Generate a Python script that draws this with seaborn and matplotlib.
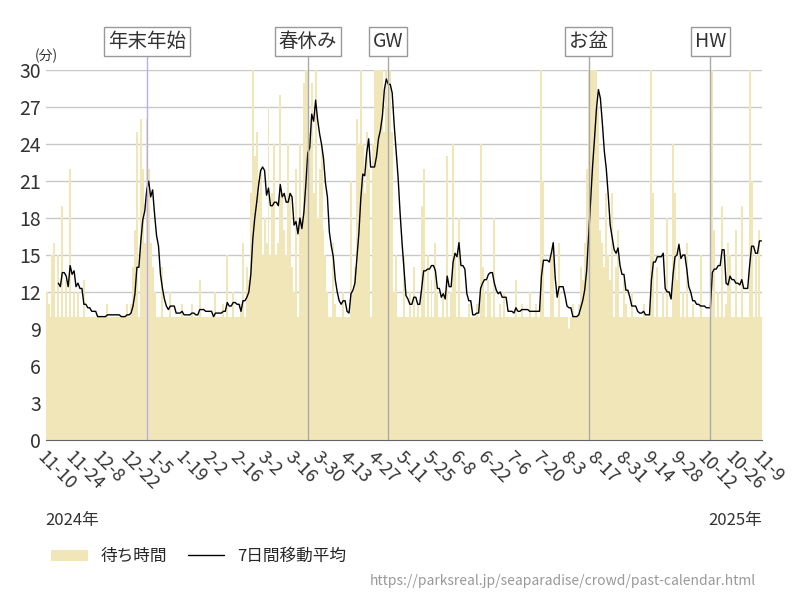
import numpy as np
import pandas as pd
import matplotlib
matplotlib.use("Agg")
import matplotlib.pyplot as plt
import seaborn as sns

# ---------------------------------------------------------------------------
# Data: daily waiting time (minutes), 2024-11-10 .. 2025-11-09, one row per week
# ---------------------------------------------------------------------------
weeks = [
    [12, 11, 10, 15, 16, 10, 15], [10, 19, 10, 13, 10, 22, 10], [12, 10, 12, 10, 10, 13, 10],
    [10, 10, 10, 10, 10, 10, 10], [10, 10, 10, 11, 10, 10, 10], [10, 10, 10, 10, 10, 10, 11],
    [10, 11, 14, 17, 25, 10, 26], [22, 16, 26, 22, 16, 14, 12], [10, 10, 10, 14, 10, 10, 10],
    [12, 10, 10, 10, 10, 10, 11], [10, 10, 10, 10, 11, 10, 10], [10, 13, 10, 10, 10, 10, 10],
    [10, 10, 12, 10, 10, 10, 11], [10, 15, 10, 10, 12, 10, 10], [10, 11, 16, 10, 14, 13, 20],
    [30, 23, 25, 20, 22, 15, 18], [16, 27, 15, 20, 24, 15, 16], [28, 20, 17, 15, 24, 20, 14],
    [12, 22, 10, 24, 18, 29, 30], [30, 25, 29, 20, 30, 18, 22], [24, 17, 15, 12, 10, 10, 16],
    [11, 10, 10, 10, 12, 10, 10], [10, 21, 12, 14, 26, 24, 30], [24, 20, 25, 22, 10, 24, 30],
    [30, 30, 30, 30, 25, 30, 27], [30, 25, 12, 15, 10, 10, 10], [15, 10, 10, 12, 10, 14, 10],
    [11, 10, 19, 22, 10, 15, 10], [13, 10, 16, 12, 10, 10, 12], [10, 23, 10, 12, 24, 15, 10],
    [18, 10, 10, 10, 10, 11, 10], [10, 10, 11, 10, 24, 14, 12], [10, 13, 12, 10, 18, 10, 10],
    [11, 10, 12, 10, 10, 10, 10], [10, 13, 10, 10, 11, 10, 10], [10, 12, 10, 10, 11, 10, 10],
    [30, 21, 10, 10, 10, 15, 16], [10, 10, 16, 10, 10, 10, 10], [9, 10, 11, 10, 10, 11, 14],
    [13, 16, 22, 30, 30, 30, 30], [30, 27, 17, 16, 14, 20, 15], [13, 20, 10, 14, 17, 10, 10],
    [13, 11, 10, 10, 12, 10, 10], [10, 10, 10, 11, 10, 10, 10], [30, 20, 10, 14, 10, 10, 12],
    [10, 18, 10, 10, 24, 20, 13], [16, 10, 12, 10, 16, 10, 10], [11, 10, 10, 10, 15, 10, 10],
    [10, 10, 10, 30, 17, 10, 12], [10, 19, 10, 11, 16, 15, 10], [10, 17, 10, 10, 19, 10, 10],
    [10, 30, 21, 10, 15, 10, 17], [10],
]
waits = [v for w in weeks for v in w]
dates = pd.date_range("2024-11-10", periods=len(waits), freq="D")

tick_labels = ["11-10", "11-24", "12-8", "12-22", "1-5", "1-19", "2-2", "2-16", "3-2",
               "3-16", "3-30", "4-13", "4-27", "5-11", "5-25", "6-8", "6-22", "7-6",
               "7-20", "8-3", "8-17", "8-31", "9-14", "9-28", "10-12", "10-26", "11-9"]
events = ["年末年始", "春休み", "GW", "お盆", "HW"]
event_dates = ["2024-12-31", "2025-03-23", "2025-05-03", "2025-08-13", "2025-10-14"]

df = pd.DataFrame({"day": np.arange(len(waits)), "wait": waits})
df["ma"] = df["wait"].rolling(7).mean()

# ---------------------------------------------------------------------------
# Plot
# ---------------------------------------------------------------------------
sns.set_style("white")
plt.rcParams["font.family"] = ["Noto Sans CJK JP", "DejaVu Sans"]

fig = plt.figure(figsize=(8, 6), dpi=100)
ax = fig.add_axes([0.057, 0.267, 0.896, 0.616])

sns.barplot(data=df, x="day", y="wait", native_scale=True, width=1,
            color="#f1e6b8", saturation=1, linewidth=0, ax=ax, label="待ち時間")
sns.lineplot(data=df, x="day", y="ma", color="black", lw=1, ax=ax, label="7日間移動平均")

ax.set_xlim(-0.5, len(waits) - 0.5)
ax.set_ylim(0, 30)
ax.set_yticks(range(0, 31, 3))
ax.yaxis.grid(True, color="#c8c8c8", lw=1)
ax.set_axisbelow(True)
for s in ["top", "right", "left"]:
    ax.spines[s].set_visible(False)
ax.spines["bottom"].set_color("#666666")
ax.tick_params(axis="y", labelsize=14, colors="#333333", length=0)

tick_pos = [(pd.Timestamp(f"{2024 if i < 4 else 2025}-{t}") - dates[0]).days
            for i, t in enumerate(tick_labels)]
tick_pos[-1] = len(waits) - 1
ax.set_xticks(tick_pos)
ax.set_xticklabels(tick_labels, rotation=-45, ha="left", va="top",
                   rotation_mode="anchor", fontsize=13, color="#333333")
ax.tick_params(axis="x", length=0, pad=6)
ax.set_xlabel("")
ax.set_ylabel("")

for name, d in zip(events, event_dates):
    x = (pd.Timestamp(d) - dates[0]).days
    ax.axvline(x, ymin=0, ymax=1.07, color="#b9aee8" if name == "年末年始" else "#aaaaaa",
               lw=1, clip_on=False)
    ax.text(x, 32.3, name, ha="center", va="center", fontsize=14, color="#333333",
            bbox=dict(boxstyle="square,pad=0.2", fc="white", ec="#999999"))

ax.text(-6, 30.6, "(分)", fontsize=10, color="#333333", va="bottom")
fig.text(0.057, 0.125, "2024年", fontsize=12, color="#333333")
fig.text(0.953, 0.125, "2025年", fontsize=12, color="#333333", ha="right")
fig.text(0.945, 0.025, "https://parksreal.jp/seaparadise/crowd/past-calendar.html",
         fontsize=10, color="#999999", ha="right")

handles, labels = ax.get_legend_handles_labels()
order = [labels.index("待ち時間"), labels.index("7日間移動平均")]
fig.legend([handles[i] for i in order], [labels[i] for i in order],
           loc="center left", bbox_to_anchor=(0.045, 0.072), ncol=2, frameon=False,
           fontsize=12, handlelength=2.2, columnspacing=1.2)
ax.get_legend().remove()

fig.savefig("out.png", dpi=100)
